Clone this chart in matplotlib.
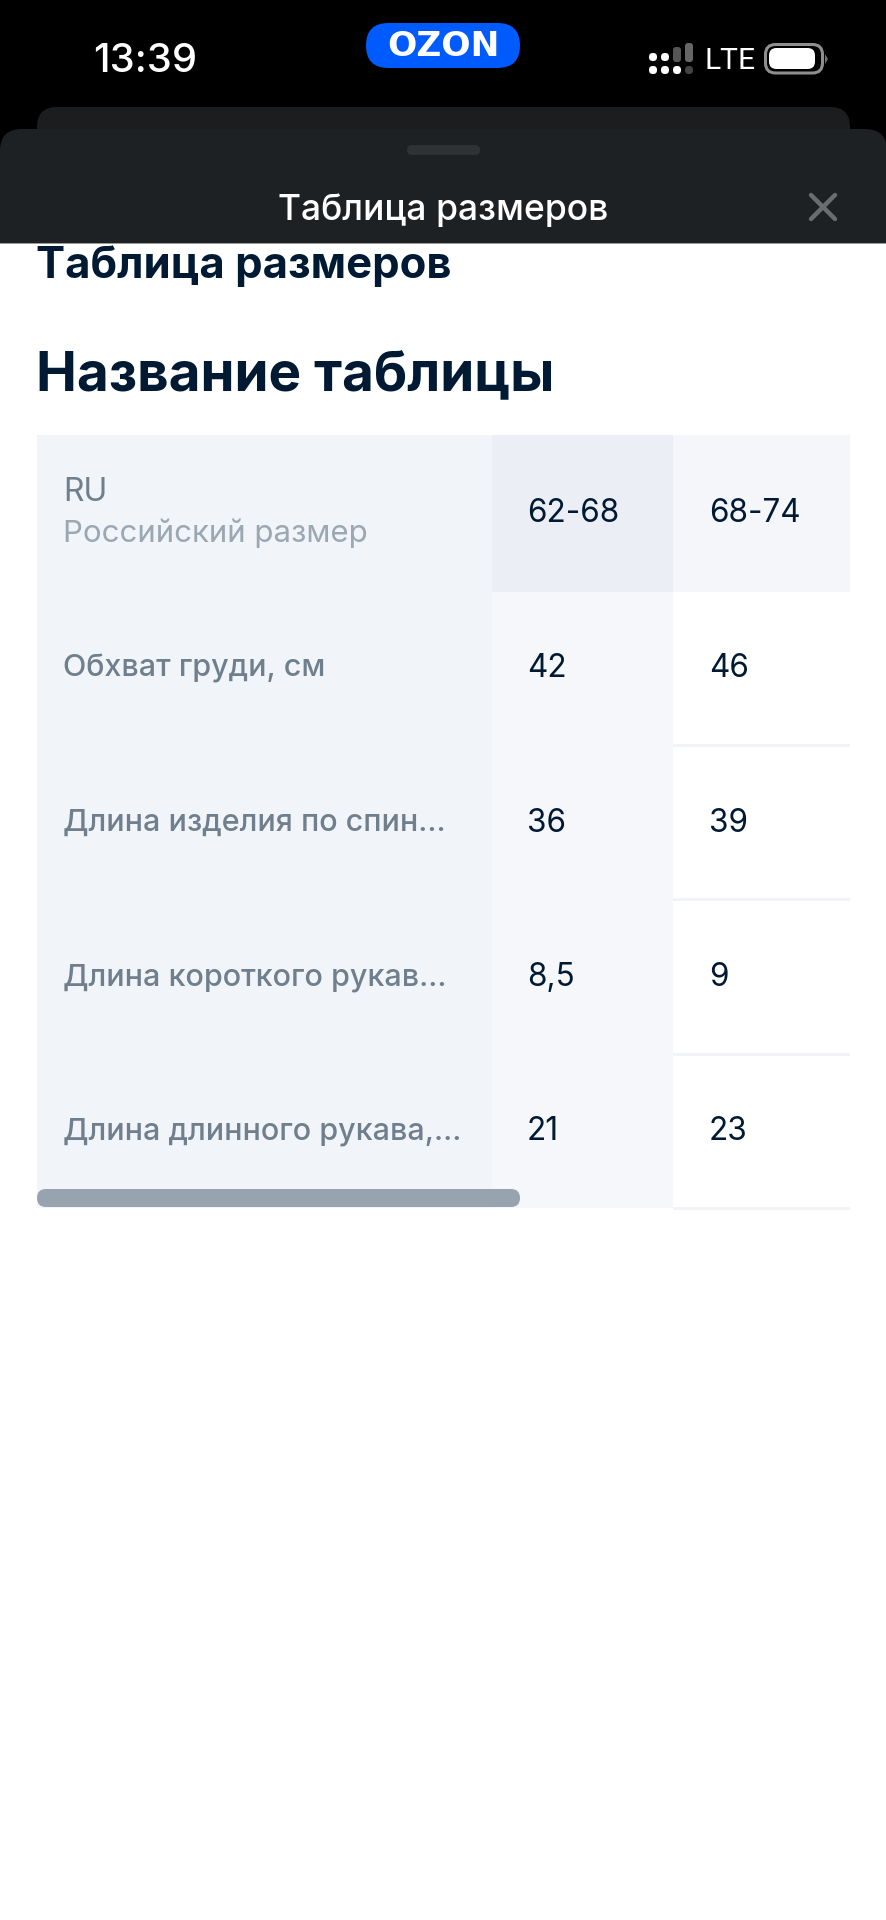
import matplotlib
matplotlib.use("Agg")
import matplotlib.pyplot as plt
from matplotlib.patches import FancyBboxPatch, Rectangle, Polygon

plt.rcParams['font.family'] = ['Inter', 'DejaVu Sans']

W, H = 887, 1920
PX = 0.72  # px -> pt at dpi=100

# ---- content ----
status_time = "13:39"
carrier = "LTE"
logo = "OZON"
sheet_title = "Таблица размеров"
page_title = "Таблица размеров"
table_title = "Название таблицы"
header_main = "RU"
header_sub = "Российский размер"
row_labels = ["Обхват груди, см", "Длина изделия по спин...",
              "Длина короткого рукав...", "Длина длинного рукава,..."]
size_labels = ["62-68", "68-74"]
col_62_68 = ["42", "36", "8,5", "21"]
col_68_74 = ["46", "39", "9", "23"]

# ---- layout ----
col_edges = [37, 492, 673, 850]
row_edges = [435, 592, 745, 899, 1054, 1208]
row_text_y = [668.5, 823, 977.5, 1132]

fig = plt.figure(figsize=(W / 100, H / 100), dpi=100, facecolor="white")
ax = fig.add_axes([0, 0, 1, 1])
ax.set_xlim(0, W)
ax.set_ylim(H, 0)
ax.axis("off")


def rect(x0, y0, x1, y1, c, z=1):
    ax.add_patch(Rectangle((x0, y0), x1 - x0, y1 - y0, fc=c, ec="none", zorder=z))


def rrect(x0, y0, x1, y1, r, c, z=2, ec="none", lw=0):
    ax.add_patch(FancyBboxPatch((x0 + r, y0 + r), x1 - x0 - 2 * r, y1 - y0 - 2 * r,
                                boxstyle=f"round,pad={r},rounding_size={r}",
                                fc=c, ec=ec, lw=lw, zorder=z))


def txt(x, y, s, px, c, ha="left", weight="normal", z=6, **kw):
    ax.text(x, y, s, fontsize=px * PX, color=c, ha=ha, va="center",
            fontweight=weight, zorder=z, **kw)


# ---- black status area and sheets ----
rect(0, 0, W, 243, "#000000", 1)
rrect(37, 107, 850, 170, 20, "#1b1d1f", 2)
rrect(0, 129, W, 300, 22, "#1e2124", 3)
rect(0, 243, W, 330, "#ffffff", 4)
rect(0, 242.5, W, 244, "#9a9a9a", 4)
rrect(407, 145, 480, 155, 5, "#2e3235", 5)
txt(443.5, 210.5, sheet_title, 35.5, "#ffffff", ha="center", weight="medium")
ax.plot([811, 835], [195, 219], color="#6a6d70", lw=3.2, zorder=6, solid_capstyle="round")
ax.plot([811, 835], [219, 195], color="#6a6d70", lw=3.2, zorder=6, solid_capstyle="round")

# status bar
txt(145, 61, status_time, 40, "#ffffff", ha="center", weight="medium")
rrect(366, 23, 520, 68, 22.5, "#005bff", 5)
txt(443, 47, logo, 34.5, "#ffffff", ha="center", weight="bold", family=["DejaVu Sans"])
for x, y in [(653, 57), (665, 57), (653, 70), (665, 70), (677, 70)]:
    rrect(x - 4, y - 4, x + 4, y + 4, 3.8, "#ffffff", 5)
rrect(673, 47, 681, 62, 3, "#555555", 5)
rrect(685, 43, 693, 62, 3, "#666666", 5)
rrect(685, 66, 693, 74, 3.8, "#444444", 5)
txt(705, 61, carrier, 30, "#ffffff", family=["Roboto", "Inter"])
rrect(765.5, 44.5, 822.5, 73, 10, "#000000", 5, ec="#8f8f8f", lw=2.2)
rrect(769, 48, 815, 69, 7.5, "#ffffff", 6)
ax.add_patch(Polygon([(825, 54), (825, 64), (828, 59)], fc="#707070", ec="none", zorder=5))

# ---- headings ----
txt(36, 266, page_title, 43.6, "#001a34", weight="bold")
txt(36, 376, table_title, 54.8, "#001a34", weight="bold")

# ---- table ----
rect(col_edges[0], row_edges[0], col_edges[1], row_edges[-1], "#f1f5f9", 1)
rect(col_edges[1], row_edges[0], col_edges[2], row_edges[1], "#ebeff5", 1)
rect(col_edges[2], row_edges[0], col_edges[3], row_edges[1], "#f4f6fa", 1)
rect(col_edges[1], row_edges[1], col_edges[2], row_edges[-1], "#f5f7fb", 1)
for y in row_edges[2:]:
    rect(col_edges[2], y - 1.5, col_edges[3], y + 1.5, "#f2f3f7", 2)

txt(63, 492.5, header_main, 32, "#707f8d")
txt(63, 533, header_sub, 31.2, "#9ba7b2")
txt(527, 513.5, size_labels[0], 31.5, "#001a34")
txt(709, 513.5, size_labels[1], 31.5, "#001a34")

for y, lab, a, b in zip(row_text_y, row_labels, col_62_68, col_68_74):
    txt(63, y, lab, 30.5, "#707f8d", weight="medium")
    txt(527, y, a, 31.5, "#001a34")
    txt(709, y, b, 31.5, "#001a34")

rrect(37, 1189, 520, 1207, 9, "#97a3ae", 7)

fig.savefig("out.png", dpi=100, facecolor="white")
